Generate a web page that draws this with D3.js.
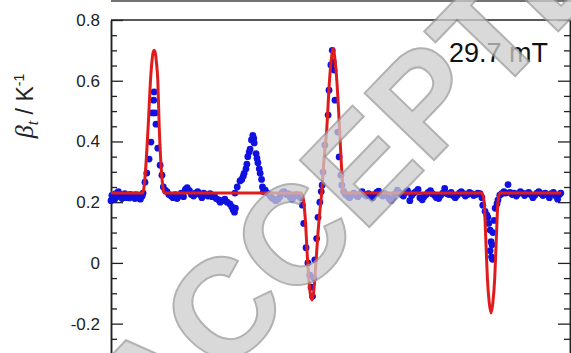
<!DOCTYPE html>
<html>
<head>
<meta charset="utf-8">
<script src="https://cdn.jsdelivr.net/npm/d3@7"></script>
<style>
  html, body { margin: 0; padding: 0; background: #fff; overflow: hidden; }
  svg { display: block; font-family: "Liberation Sans", Arial, sans-serif; }
</style>
</head>
<body>
<svg id="chart" width="571" height="353"></svg>
<script>
// measured beta_t (blue dots), x in arbitrary position units
const dotX = [
  0.0, 0.2, 0.4, 0.8, 1.0, 1.2, 1.6, 2.0, 2.2, 2.4, 2.8, 3.0, 3.2, 3.6, 4.0, 4.2, 4.4, 4.8, 5.2, 5.4, 5.6, 6.0, 6.4, 6.8,
  7.0, 7.4, 7.8, 8.3, 8.7, 9.0, 9.3, 9.4, 9.6, 9.8, 10.2, 10.7, 11.1, 11.4, 11.8,
  12.2, 12.6, 13.1, 13.5, 14.0, 14.4, 14.9, 15.3, 15.8, 16.2, 16.6, 17.1, 17.5, 18.0, 18.4, 18.9, 19.3, 19.8,
  20.2, 20.7, 21.1, 21.6, 22.0, 22.5, 22.9, 23.4, 23.8, 24.3, 24.8, 25.3, 25.9, 26.3, 26.6, 26.9, 27.1,
  27.0, 27.5, 28.1, 28.5, 28.8, 29.0, 29.4, 29.6, 29.8, 30.1, 30.3, 30.6, 30.9, 31.1, 31.2, 31.6, 31.8, 32.0,
  32.3, 32.5, 32.8, 33.0, 33.2,
  33.6, 34.1, 34.6, 35.0, 35.5, 35.9, 36.4, 36.8, 37.3, 37.7, 38.2, 38.6, 39.1, 39.5, 40.0, 40.4, 40.9, 41.3,
  41.7, 42.0, 42.5, 42.9, 43.3, 43.6, 43.9, 44.2, 44.4, 44.8, 45.1, 45.5, 45.8, 46.0, 46.2, 46.6, 47.3, 47.5,
  47.9, 48.2, 48.4, 48.6, 48.8, 49.4, 49.7, 50.1, 50.3, 50.7,
  51.1, 51.6, 52.0, 52.5, 52.9, 53.4, 53.8, 54.3, 54.7, 55.2, 55.6, 56.1, 56.5, 57.0, 57.4, 57.9, 58.3, 58.8,
  59.2, 59.7, 60.1, 60.6, 61.0, 61.5, 61.9, 62.4, 62.8, 63.3, 63.7, 64.2, 64.6, 65.1, 65.5, 66.0, 66.4, 66.9,
  67.3, 67.8, 68.2, 68.7, 69.1, 69.6, 70.0, 70.5, 70.9, 71.4, 71.8, 72.3, 72.7, 73.2, 73.6, 74.1, 74.5, 75.0,
  75.4, 75.9, 76.3, 76.8, 77.2, 77.7, 78.1, 78.6, 79.0, 79.5, 79.9, 80.4,
  80.8, 81.0, 81.5, 81.9, 82.1, 82.3, 82.6, 82.8, 82.6, 82.9, 83.1, 83.0, 83.2, 83.5, 83.7, 84.1, 84.3, 84.7,
  85.1, 85.6, 86.0, 86.5, 86.9, 87.4, 87.8, 88.3, 88.7, 89.2, 89.6, 90.1, 90.5, 91.0, 91.4, 91.9, 92.3, 92.8,
  93.2, 93.7, 94.1, 94.6, 95.0, 95.5, 95.9, 96.4, 96.8, 97.3, 97.7, 98.0
];
const dotV = [
  0.205, 0.222, 0.215, 0.21, 0.228, 0.222, 0.235, 0.218, 0.225, 0.212, 0.22, 0.228, 0.215, 0.222, 0.214, 0.226, 0.218, 0.222, 0.212, 0.225, 0.218, 0.214, 0.21, 0.22,
  0.23, 0.266, 0.296, 0.342, 0.398, 0.494, 0.536, 0.563, 0.494, 0.457, 0.378, 0.322, 0.289, 0.25, 0.24,
  0.235, 0.225, 0.22, 0.215, 0.225, 0.212, 0.22, 0.23, 0.218, 0.242, 0.248, 0.238, 0.225, 0.22, 0.23, 0.235, 0.225, 0.215,
  0.23, 0.225, 0.22, 0.228, 0.218, 0.222, 0.212, 0.208, 0.2, 0.205, 0.21, 0.2, 0.194, 0.185, 0.175, 0.167, 0.18,
  0.23, 0.25, 0.27, 0.275, 0.285, 0.295, 0.31, 0.325, 0.35, 0.365, 0.375, 0.405, 0.42, 0.41, 0.395, 0.36, 0.345, 0.33,
  0.31, 0.295, 0.275, 0.25, 0.235,
  0.24, 0.23, 0.222, 0.215, 0.21, 0.205, 0.21, 0.218, 0.232, 0.235, 0.225, 0.228, 0.215, 0.21, 0.22, 0.225, 0.22, 0.215,
  0.19, 0.13, 0.05, 0.0, -0.04, -0.08, -0.11, -0.05, 0.01, 0.08, 0.15, 0.2, 0.235, 0.256, 0.299, 0.388, 0.487, 0.569,
  0.652, 0.7, 0.662, 0.635, 0.536, 0.431, 0.349, 0.289, 0.256, 0.235,
  0.225, 0.22, 0.215, 0.225, 0.23, 0.222, 0.218, 0.228, 0.235, 0.225, 0.22, 0.228, 0.222, 0.215, 0.225, 0.232, 0.236, 0.225,
  0.22, 0.228, 0.222, 0.212, 0.205, 0.215, 0.228, 0.24, 0.232, 0.225, 0.22, 0.232, 0.238, 0.205, 0.222, 0.23, 0.235, 0.242,
  0.215, 0.208, 0.218, 0.225, 0.232, 0.238, 0.228, 0.222, 0.215, 0.212, 0.222, 0.23, 0.245, 0.228, 0.225, 0.232, 0.222, 0.215,
  0.222, 0.23, 0.235, 0.228, 0.22, 0.225, 0.232, 0.228, 0.222, 0.225, 0.23, 0.228,
  0.215, 0.19, 0.17, 0.157, 0.15, 0.13, 0.108, 0.07, 0.04, 0.02, 0.012, 0.06, 0.1, 0.14, 0.18, 0.195, 0.207, 0.223,
  0.228, 0.235, 0.23, 0.258, 0.232, 0.225, 0.23, 0.22, 0.228, 0.235, 0.23, 0.222, 0.228, 0.232, 0.225, 0.215, 0.222, 0.23,
  0.235, 0.228, 0.222, 0.23, 0.225, 0.215, 0.228, 0.232, 0.222, 0.21, 0.225, 0.23
];

// fitted beta_t (red line)
const fitX = [0, 6.9, 7.2, 7.5, 8.1, 8.6, 8.9, 9.2, 9.4, 9.6, 9.9, 10.2, 10.5, 11.0, 11.3, 11.6,
  41.4, 41.9, 42.3, 42.9, 43.4, 43.8, 44.2, 44.6, 45.1, 45.5, 45.9, 46.4, 47.0, 47.6, 48.0, 48.4, 48.8, 49.2, 49.8, 50.2, 50.5, 50.8,
  80.8, 81.3, 81.6, 82.0, 82.4, 82.8, 83.2, 83.6, 84.0, 84.3, 84.7, 98.1];
const fitV = [0.23, 0.23, 0.25, 0.30, 0.45, 0.60, 0.66, 0.695, 0.70, 0.695, 0.66, 0.60, 0.45, 0.30, 0.25, 0.23,
  0.23, 0.21, 0.15, -0.01, -0.10, -0.122, -0.09, -0.01, 0.10, 0.17, 0.23, 0.34, 0.44, 0.60, 0.67, 0.705, 0.67, 0.60, 0.44, 0.32, 0.25, 0.23,
  0.23, 0.20, 0.10, -0.05, -0.13, -0.165, -0.13, -0.05, 0.10, 0.20, 0.23, 0.23];

const yTicks = [0.8, 0.6, 0.4, 0.2, 0, -0.2];
const yTickLabels = ['0.8', '0.6', '0.4', '0.2', '0', '-0.2'];
const yMinor = [0.75, 0.7, 0.65, 0.55, 0.5, 0.45, 0.35, 0.3, 0.25, 0.15, 0.1, 0.05, -0.05, -0.1, -0.15, -0.25];
const fieldLabel = '29.7 mT';
const watermark = 'ACCEPTED';

const svg = d3.select('#chart');
const plotL = 111, plotR = 570, plotT = 20, plotB = 354;

const x = d3.scaleLinear().domain([0, 100]).range([plotL, plotR]);
const y = d3.scaleLinear().domain([-0.3, 0.8]).range([plotB, plotT]);

// edge of the panel above
svg.append('line')
  .attr('x1', plotL).attr('x2', 571).attr('y1', 1).attr('y2', 1)
  .attr('stroke', '#444').attr('stroke-width', 1.5);

// plot frame top
svg.append('line')
  .attr('x1', plotL).attr('x2', plotR).attr('y1', plotT).attr('y2', plotT)
  .attr('stroke', '#222').attr('stroke-width', 1.5);

// left axis, ticks pointing inward
const gl = svg.append('g').attr('transform', `translate(${plotL},0)`);
gl.call(d3.axisLeft(y).tickValues(yTicks).tickSizeInner(-12).tickSizeOuter(0).tickPadding(11)
  .tickFormat((d, i) => yTickLabels[i]));
gl.append('g').call(d3.axisLeft(y).tickValues(yMinor).tickSizeInner(-6).tickSizeOuter(0).tickFormat(''));

// right axis, ticks pointing inward, no labels
const gr = svg.append('g').attr('transform', `translate(${plotR},0)`);
gr.call(d3.axisRight(y).tickValues(yTicks).tickSizeInner(-12).tickSizeOuter(0).tickFormat(''));
gr.append('g').call(d3.axisRight(y).tickValues(yMinor).tickSizeInner(-6).tickSizeOuter(0).tickFormat(''));

svg.selectAll('.domain').attr('stroke', '#222').attr('stroke-width', 1.5);
svg.selectAll('.tick line').attr('stroke', '#222').attr('stroke-width', 1.3);
gl.selectAll('.tick text').attr('font-size', 17).attr('fill', '#222')
  .attr('font-family', '"Liberation Sans", Arial, sans-serif');

// y label
const yl = svg.append('text')
  .attr('transform', 'translate(33,106) rotate(-90)')
  .attr('text-anchor', 'middle')
  .attr('font-size', 23)
  .attr('fill', '#222');
yl.append('tspan').attr('font-family', '"Liberation Serif", serif').attr('font-style', 'italic')
  .attr('font-size', 26).text('β');
yl.append('tspan').attr('font-family', '"Liberation Serif", serif').attr('font-style', 'italic')
  .attr('font-size', 16).attr('dy', 5).text('t');
yl.append('tspan').attr('dy', -5).text('  /  K');
yl.append('tspan').attr('font-size', 14).attr('dy', -9).text('-1');

// data dots
const dots = dotX.map((d, i) => ({ x: d, v: dotV[i] }));
svg.append('g').selectAll('circle')
  .data(dots)
  .enter()
  .append('circle')
  .attr('cx', d => x(d.x))
  .attr('cy', d => y(d.v))
  .attr('r', 3.4)
  .attr('fill', '#1010e0');

// fit curve
const fit = fitX.map((d, i) => [d, fitV[i]]);
svg.append('path')
  .datum(fit)
  .attr('fill', 'none')
  .attr('stroke', '#e01b1b')
  .attr('stroke-width', 3)
  .attr('stroke-linejoin', 'round')
  .attr('d', d3.line().x(d => x(d[0])).y(d => y(d[1])).curve(d3.curveMonotoneX));

// field label
svg.append('text')
  .attr('x', 548).attr('y', 62)
  .attr('text-anchor', 'end')
  .attr('font-size', 27)
  .attr('fill', '#111')
  .text(fieldLabel);

// watermark over everything
svg.append('text')
  .attr('transform', 'translate(152,452) rotate(-46)')
  .attr('font-size', 140)
  .attr('font-weight', 'bold')
  .attr('fill', '#cdcdcd')
  .attr('stroke', '#999')
  .attr('stroke-width', 2)
  .attr('opacity', 0.75)
  .text(watermark);
</script>
</body>
</html>
